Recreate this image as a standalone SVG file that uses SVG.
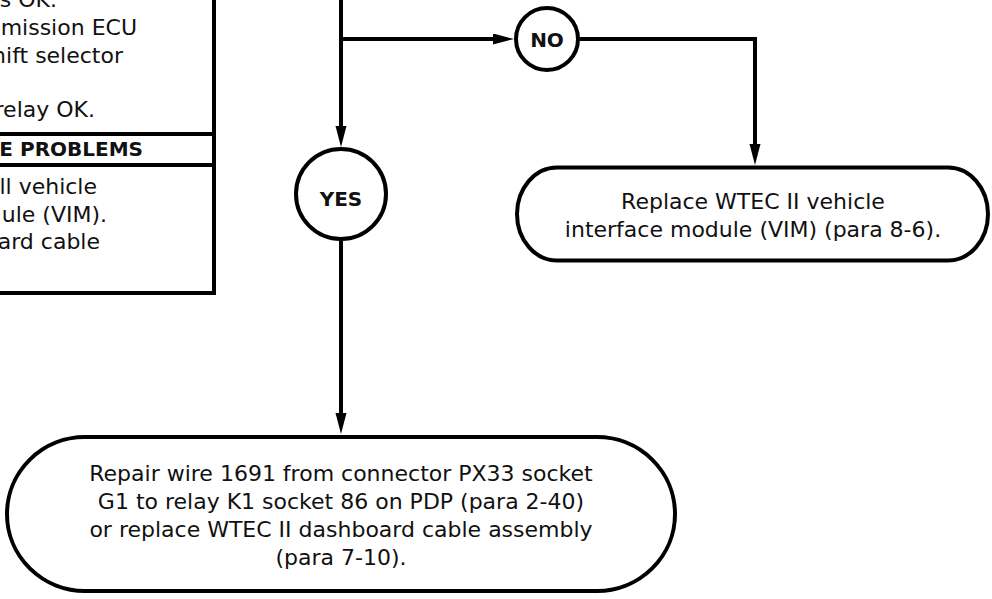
<svg xmlns="http://www.w3.org/2000/svg" width="992" height="599" viewBox="0 0 992 599">
<style>
  .ln{fill:none;stroke:#000;stroke-width:4}
  .shape{fill:#fff;stroke:#000;stroke-width:4}
  .t{font-family:"DejaVu Sans",sans-serif;font-size:22px;fill:#111}
  .b{font-family:"DejaVu Sans",sans-serif;font-size:20px;font-weight:bold;fill:#111}
</style>
<defs>
  <marker id="arr" markerUnits="userSpaceOnUse" markerWidth="22" markerHeight="12" refX="11" refY="5.5" orient="auto">
    <path d="M0,0 L21,5.5 L0,11 z" fill="#000"/>
  </marker>
</defs>
<rect width="992" height="599" fill="#fff"/>

<g id="connectors">
  <path class="ln" d="M341,-5 V137" marker-end="url(#arr)"/>
  <path class="ln" d="M341,39 H504" marker-end="url(#arr)"/>
  <path class="ln" d="M580,39 H755 V155" marker-end="url(#arr)"/>
  <path class="ln" d="M341,241 V424" marker-end="url(#arr)"/>
</g>

<g id="left-box">
  <path class="ln" d="M214,-5 V293 H-5"/>
  <path class="ln" d="M-5,134 H214 M-5,165 H214"/>
  <g class="t" text-anchor="end">
    <text x="57" y="7">s OK.</text>
    <text x="137" y="35">mission ECU</text>
    <text x="123" y="63">hift selector</text>
    <text x="95" y="117">relay OK.</text>
    <text x="97" y="194">ll vehicle</text>
    <text x="107" y="222">ule (VIM).</text>
    <text x="100" y="249">oard cable</text>
  </g>
  <text class="b" x="143" y="156" text-anchor="end">E PROBLEMS</text>
</g>

<g id="no">
  <circle class="shape" cx="547" cy="39" r="31"/>
  <text class="b" x="547" y="47" text-anchor="middle">NO</text>
</g>

<g id="yes">
  <circle class="shape" cx="341" cy="194" r="45"/>
  <text class="b" x="341" y="206" text-anchor="middle">YES</text>
</g>

<g id="replace-vim">
  <rect class="shape" x="517" y="167.5" width="471" height="93" rx="40" ry="46.5"/>
  <g class="t" text-anchor="middle">
    <text x="753" y="209">Replace WTEC II vehicle</text>
    <text x="753" y="237">interface module (VIM) (para 8-6).</text>
  </g>
</g>

<g id="repair-wire">
  <rect class="shape" x="7" y="437" width="668" height="154" rx="78" ry="77"/>
  <g class="t" text-anchor="middle">
    <text x="341" y="481">Repair wire 1691 from connector PX33 socket</text>
    <text x="341" y="509">G1 to relay K1 socket 86 on PDP (para 2-40)</text>
    <text x="341" y="537">or replace WTEC II dashboard cable assembly</text>
    <text x="341" y="565">(para 7-10).</text>
  </g>
</g>
</svg>
